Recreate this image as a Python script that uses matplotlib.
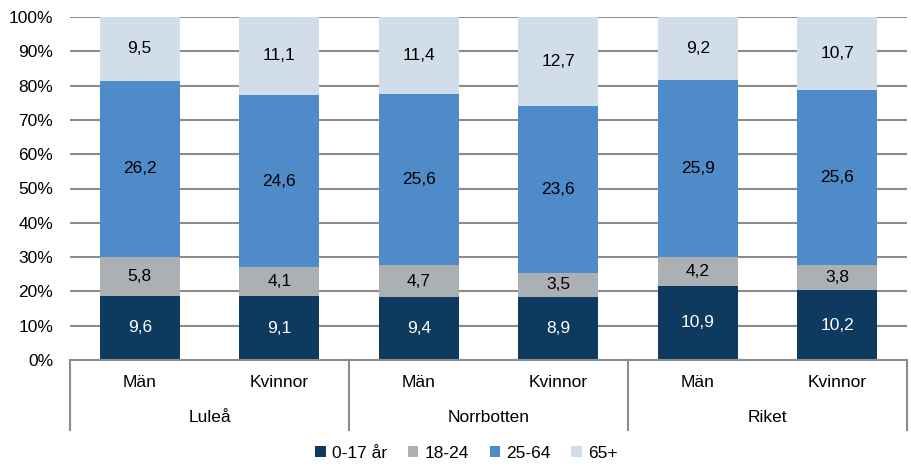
import matplotlib
matplotlib.use("Agg")
import matplotlib.pyplot as plt
from matplotlib import font_manager
from matplotlib.transforms import blended_transform_factory
import numpy as np

groups = ["Luleå", "Norrbotten", "Riket"]
sexes = ["Män", "Kvinnor"]
series_names = ["0-17 år", "18-24", "25-64", "65+"]
v_0_17 = [9.6, 9.1, 9.4, 8.9, 10.9, 10.2]
v_18_24 = [5.8, 4.1, 4.7, 3.5, 4.2, 3.8]
v_25_64 = [26.2, 24.6, 25.6, 23.6, 25.9, 25.6]
v_65 = [9.5, 11.1, 11.4, 12.7, 9.2, 10.7]
yticks = [0, 10, 20, 30, 40, 50, 60, 70, 80, 90, 100]

colors = ["#0D3A5E", "#ADB0B2", "#4F8AC9", "#D1DEEA"]
text_colors = ["white", "black", "black", "black"]

names = {f.name for f in font_manager.fontManager.ttflist}
fam = ["Liberation Sans Narrow", "DejaVu Sans"] if "Liberation Sans Narrow" in names else ["Liberation Sans", "DejaVu Sans"]
plt.rcParams["font.family"] = fam
FS = 12.5

fig = plt.figure(figsize=(9.11, 4.66), dpi=100)
ax = fig.add_axes([70/911, 1-360/466, 837/911, 343/466])

data = np.array([v_0_17, v_18_24, v_25_64, v_65])
totals = data.sum(axis=0)
pct = data / totals * 100
x = np.arange(6)
bottom = np.zeros(6)
for i in range(4):
    ax.bar(x, pct[i], bottom=bottom, width=0.575, color=colors[i], zorder=2, label=series_names[i])
    for j in range(6):
        ax.text(x[j], bottom[j] + pct[i][j]/2, f"{data[i][j]:.1f}".replace(".", ","),
                ha="center", va="center", fontsize=FS, color=text_colors[i], zorder=3)
    bottom += pct[i]

ax.set_xlim(-0.5, 5.5)
ax.set_ylim(0, 100)
ax.set_yticks(yticks)
ax.set_yticklabels([f"{t}%" for t in yticks], fontsize=FS)
ax.yaxis.grid(True, color="#8C8C8C", linewidth=1.5, zorder=0)
ax.set_axisbelow(True)
ax.tick_params(axis="y", length=0, pad=12)
ax.tick_params(axis="x", length=0, pad=11)
ax.set_xticks(x)
ax.set_xticklabels(sexes * 3, fontsize=FS)
for s in ["left", "right", "top"]:
    ax.spines[s].set_visible(False)
ax.spines["bottom"].set_color("#8C8C8C")
ax.spines["bottom"].set_linewidth(1.5)

trans = blended_transform_factory(ax.transData, ax.transAxes)
for xs in [-0.5, 1.5, 3.5, 5.5]:
    ax.plot([xs, xs], [0, -70/343], color="#8C8C8C", linewidth=1.5, transform=trans, clip_on=False)
for gi, g in enumerate(groups):
    ax.text(2*gi + 0.5, -57/343, g, transform=trans, ha="center", va="center", fontsize=FS)

leg = fig.legend(loc="center", bbox_to_anchor=(0.512, 1-453/466), ncol=4, frameon=False,
                 fontsize=FS, handlelength=0.6, handleheight=0.6, handletextpad=0.35, columnspacing=1.2)

fig.savefig("out.png", dpi=100)
